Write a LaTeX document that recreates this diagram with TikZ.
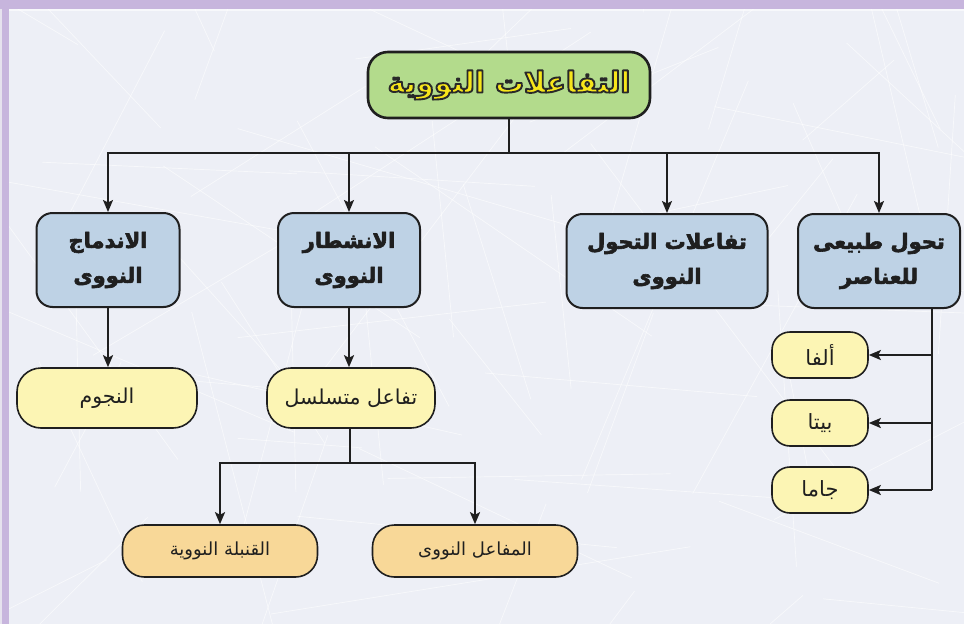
\documentclass[tikz,border=0pt]{standalone}
\usepackage{fontspec}
\usetikzlibrary{arrows.meta,calc}
\TeXXeTstate=1
\newfontfamily\arabicfont[Script=Arabic]{DejaVu Sans}
\definecolor{bgc}{HTML}{EDEFF6}
\definecolor{stripc}{HTML}{C7B5DD}
\definecolor{edgec}{HTML}{E6E2EE}
\definecolor{linec}{HTML}{1F1F1F}
\definecolor{greenfill}{HTML}{B3DB8C}
\definecolor{bluefill}{HTML}{BED2E5}
\definecolor{yellowfill}{HTML}{FCF5B4}
\definecolor{orangefill}{HTML}{F8D898}
\definecolor{titleyellow}{HTML}{F7E51A}
\newcommand{\outlineon}{\special{pdf:literal direct 2 Tr 1.9 w 1 j 0.16 0.16 0.16 RG}}
\newcommand{\heavyon}{\special{pdf:literal direct 2 Tr 0.6 w 1 j 0.12 0.12 0.12 RG}}
\newcommand{\outlineoff}{\special{pdf:literal direct 0 Tr}}
\tikzset{
  titlebox/.style={draw=linec, line width=2.6pt, fill=greenfill, rounded corners=20pt,
    minimum width=282pt, minimum height=66pt, text=titleyellow,
    font=\arabicfont\bfseries\fontsize{29}{30}\selectfont},
  bluebox/.style={draw=linec, line width=2pt, fill=bluefill, rounded corners=16pt,
    minimum height=94pt, align=center, inner sep=2pt, text=linec,
    font=\arabicfont\bfseries\fontsize{21}{35}\selectfont},
  yelbox/.style={draw=linec, line width=1.6pt, fill=yellowfill, rounded corners=24pt,
    minimum height=60pt, text=linec, font=\arabicfont\fontsize{20.5}{24}\selectfont},
  smallbox/.style={draw=linec, line width=1.6pt, fill=yellowfill, rounded corners=18pt,
    minimum width=96pt, minimum height=46pt, text=linec, font=\arabicfont\fontsize{21}{24}\selectfont},
  orbox/.style={draw=linec, line width=1.6pt, fill=orangefill, rounded corners=22pt,
    minimum height=52pt, text=linec, font=\arabicfont\fontsize{18}{22}\selectfont},
  conn/.style={draw=linec, line width=2pt},
  arr/.style={conn, -{Stealth[length=12pt,width=10pt,inset=2.5pt]}},
}
\begin{document}
\begin{tikzpicture}[x=1pt,y=-1pt]
\useasboundingbox (0,0) rectangle (964,624);
% background
\fill[bgc] (0,0) rectangle (964,624);
\begin{scope}
  \clip (0,0) rectangle (964,624);
  \pgfmathsetseed{11}
  \foreach \i in {1,...,80}{
    \pgfmathsetmacro\xa{rnd*964}
    \pgfmathsetmacro\ya{rnd*624}
    \pgfmathsetmacro\ang{rnd*360}
    \pgfmathsetmacro\len{120+rnd*320}
    \draw[white, line width=0.7pt, opacity=0.6] (\xa,\ya) -- ++(\ang:\len);
  }
\end{scope}
\fill[edgec] (0,0) rectangle (2,624);
\fill[stripc] (2,0) rectangle (9,624);
\fill[stripc] (0,0) rectangle (964,9);
\fill[white, opacity=0.6] (9,9) rectangle (964,11);

% nodes
\node[titlebox] (title) at (509,85) {\outlineon\beginR التفاعلات النووية\endR\outlineoff};

\node[bluebox, minimum width=143pt] (fus) at (108,260) {\heavyon\beginR الاندماج\endR\\\beginR النووى\endR\outlineoff};
\node[bluebox, minimum width=142pt] (fis) at (349,260) {\heavyon\beginR الانشطار\endR\\\beginR النووى\endR\outlineoff};
\node[bluebox, minimum width=201pt] (trans) at (667,261) {\heavyon\beginR تفاعلات التحول\endR\\\beginR النووى\endR\outlineoff};
\node[bluebox, minimum width=162pt] (nat) at (879,261) {\heavyon\beginR تحول طبيعى\endR\\\beginR للعناصر\endR\outlineoff};

\node[yelbox, minimum width=180pt] (stars) at (107,398) {\beginR النجوم\endR};
\node[yelbox, minimum width=168pt] (chain) at (351,398) {\beginR تفاعل متسلسل\endR};

\node[smallbox] (alpha) at (820,355) {\beginR ألفا\endR};
\node[smallbox] (beta) at (820,423) {\beginR بيتا\endR};
\node[smallbox] (gamma) at (820,490) {\beginR جاما\endR};

\node[orbox, minimum width=195pt] (bomb) at (220,551) {\beginR القنبلة النووية\endR};
\node[orbox, minimum width=205pt] (reactor) at (475,551) {\beginR المفاعل النووى\endR};

% connectors
\coordinate (hub) at (509,153);
\draw[conn] (title.south) -- (hub);
\draw[conn] (fus.north |- hub) -- (nat.north |- hub);
\draw[arr] (hub) -| (fus.north);
\draw[arr] (hub) -| (fis.north);
\draw[arr] (hub) -| (trans.north);
\draw[arr] (hub) -| (nat.north);

\draw[arr] (fus.south) -- (fus.south |- stars.north);
\draw[arr] (fis.south) -- (fis.south |- chain.north);

\coordinate (hub2) at (350,463);
\draw[conn] (chain.south -| hub2) -- (hub2);
\draw[conn] (bomb.north |- hub2) -- (reactor.north |- hub2);
\draw[arr] (hub2) -| (bomb.north);
\draw[arr] (hub2) -| (reactor.north);

\coordinate (rx) at (932,0);
\draw[conn] (rx |- nat.south) -- (rx |- gamma.east);
\draw[arr] (rx |- alpha.east) -- (alpha.east);
\draw[arr] (rx |- beta.east) -- (beta.east);
\draw[arr] (rx |- gamma.east) -- (gamma.east);
\end{tikzpicture}
\end{document}
